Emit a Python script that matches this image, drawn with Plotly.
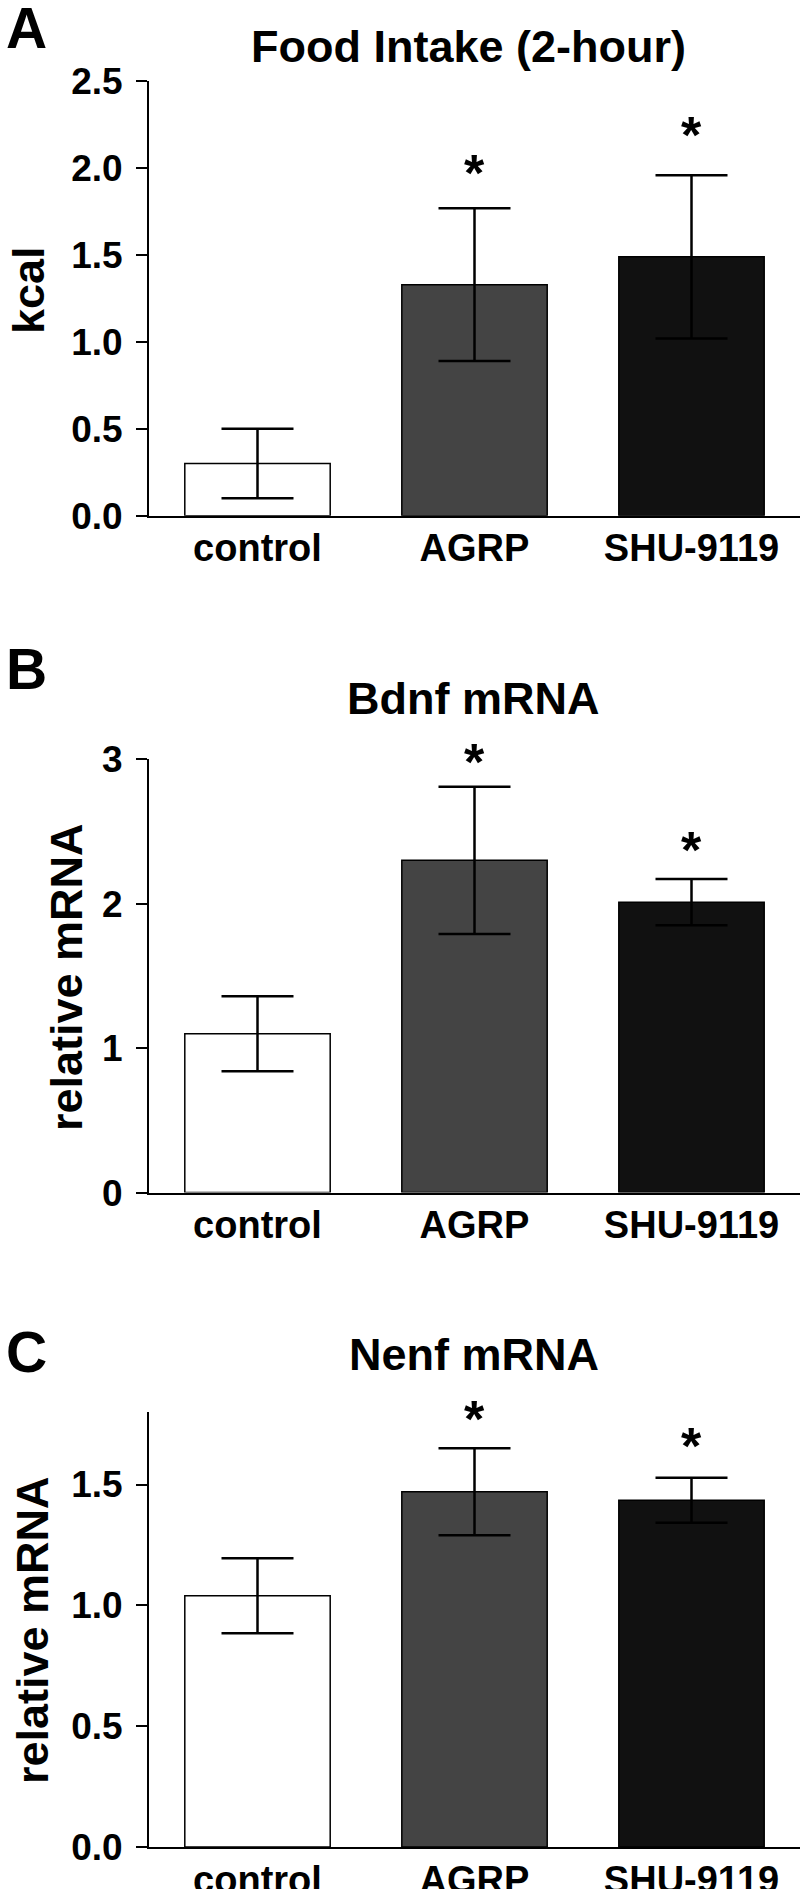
import plotly.graph_objects as go

# datos
groups = ["control", "AGRP", "SHU-9119"]
bar_colors = ["#ffffff", "#444444", "#111111"]

food_kcal = [0.30, 1.33, 1.49]
food_err = [0.20, 0.44, 0.47]
food_star = [None, 1.97, 2.19]

bdnf_rel = [1.10, 2.30, 2.01]
bdnf_err = [0.26, 0.51, 0.16]
bdnf_star = [None, 2.98, 2.37]

nenf_rel = [1.04, 1.47, 1.435]
nenf_err = [0.155, 0.18, 0.093]
nenf_star = [None, 1.77, 1.66]

W, H = 800, 1889
FONT = "Liberation Sans, Arial, sans-serif"


def py(px):
    # pixel vertical -> coordenada paper
    return 1 - px / H


panels = [
    dict(letter="A", title="Food Intake (2-hour)", ylabel="kcal",
         y=food_kcal, err=food_err, star=food_star,
         yrange=[0, 2.5], ticks=[0, 0.5, 1.0, 1.5, 2.0, 2.5], fmt=".1f",
         top=81.4, bottom=515.7, letter_y=27.5, title_x=468, title_y=47,
         ylab_x=28, ylab_y=290),
    dict(letter="B", title="Bdnf mRNA", ylabel="relative mRNA",
         y=bdnf_rel, err=bdnf_err, star=bdnf_star,
         yrange=[0, 3], ticks=[0, 1, 2, 3], fmt="d",
         top=759.2, bottom=1192.6, letter_y=669.5, title_x=473, title_y=699,
         ylab_x=66, ylab_y=977),
    dict(letter="C", title="Nenf mRNA", ylabel="relative mRNA",
         y=nenf_rel, err=nenf_err, star=nenf_star,
         yrange=[0, 1.8], ticks=[0, 0.5, 1.0, 1.5], fmt=".1f",
         top=1412, bottom=1847, letter_y=1352, title_x=474, title_y=1354,
         ylab_x=32, ylab_y=1630),
]

fig = go.Figure()
annotations = []

for i, p in enumerate(panels, start=1):
    xa = "x" if i == 1 else f"x{i}"
    ya = "y" if i == 1 else f"y{i}"
    fig.add_trace(go.Bar(
        x=groups, y=p["y"], xaxis=xa, yaxis=ya,
        width=0.67,
        marker=dict(color=bar_colors, line=dict(color="black", width=1.5)),
        error_y=dict(type="data", array=p["err"], visible=True,
                     color="black", thickness=2.5, width=36),
        showlegend=False,
    ))

    ax_common = dict(showline=True, linecolor="black", linewidth=2,
                     showgrid=False, zeroline=False, automargin=False)
    if p["fmt"] == "d":
        ticktext = [str(int(t)) for t in p["ticks"]]
    else:
        ticktext = [format(t, p["fmt"]) for t in p["ticks"]]
    fig.update_layout(**{
        ("xaxis" if i == 1 else f"xaxis{i}"): dict(
            ax_common, domain=[149 / W, 1.0], range=[-0.5, 2.5],
            anchor=ya, ticks="", ticklabelstandoff=-2,
            tickfont=dict(family=FONT, size=38, color="black", weight="bold"),
        ),
        ("yaxis" if i == 1 else f"yaxis{i}"): dict(
            ax_common, domain=[py(p["bottom"]), py(p["top"])],
            range=p["yrange"], anchor=xa,
            tickmode="array", tickvals=p["ticks"], ticktext=ticktext,
            ticks="outside", ticklen=11, tickwidth=2, tickcolor="black",
            ticklabelstandoff=6,
            tickfont=dict(family=FONT, size=37, color="black", weight="bold"),
        ),
    })

    # letra del panel
    annotations.append(dict(
        text=p["letter"], xref="paper", yref="paper",
        x=4 / W, y=py(p["letter_y"]), xanchor="left", yanchor="middle",
        showarrow=False, font=dict(family=FONT, size=57, color="black", weight="bold"),
    ))
    # titulo
    annotations.append(dict(
        text=p["title"], xref="paper", yref="paper",
        x=p["title_x"] / W, y=py(p["title_y"]), xanchor="center", yanchor="middle",
        showarrow=False, font=dict(family=FONT, size=45, color="black", weight="bold"),
    ))
    # etiqueta eje y
    annotations.append(dict(
        text=p["ylabel"], xref="paper", yref="paper", textangle=-90,
        x=p["ylab_x"] / W, y=py(p["ylab_y"]), xanchor="center", yanchor="middle",
        showarrow=False, font=dict(family=FONT, size=45, color="black", weight="bold"),
    ))
    # asteriscos
    for g, s in zip(groups, p["star"]):
        if s is None:
            continue
        annotations.append(dict(
            text="*", xref=xa, yref=ya, x=g, y=s,
            xanchor="center", yanchor="middle",
            showarrow=False, font=dict(family=FONT, size=52, color="black", weight="bold"),
        ))

fig.update_layout(
    template="none",
    width=W, height=H,
    margin=dict(l=0, r=0, t=0, b=0),
    paper_bgcolor="white", plot_bgcolor="white",
    annotations=annotations,
)

# quitar el margen por defecto del <body> para que la figura empiece en (0,0)
fig.write_html(
    "out.html",
    config={"displayModeBar": False},
    post_script="document.body.style.margin='0';document.body.style.overflow='hidden';",
)
